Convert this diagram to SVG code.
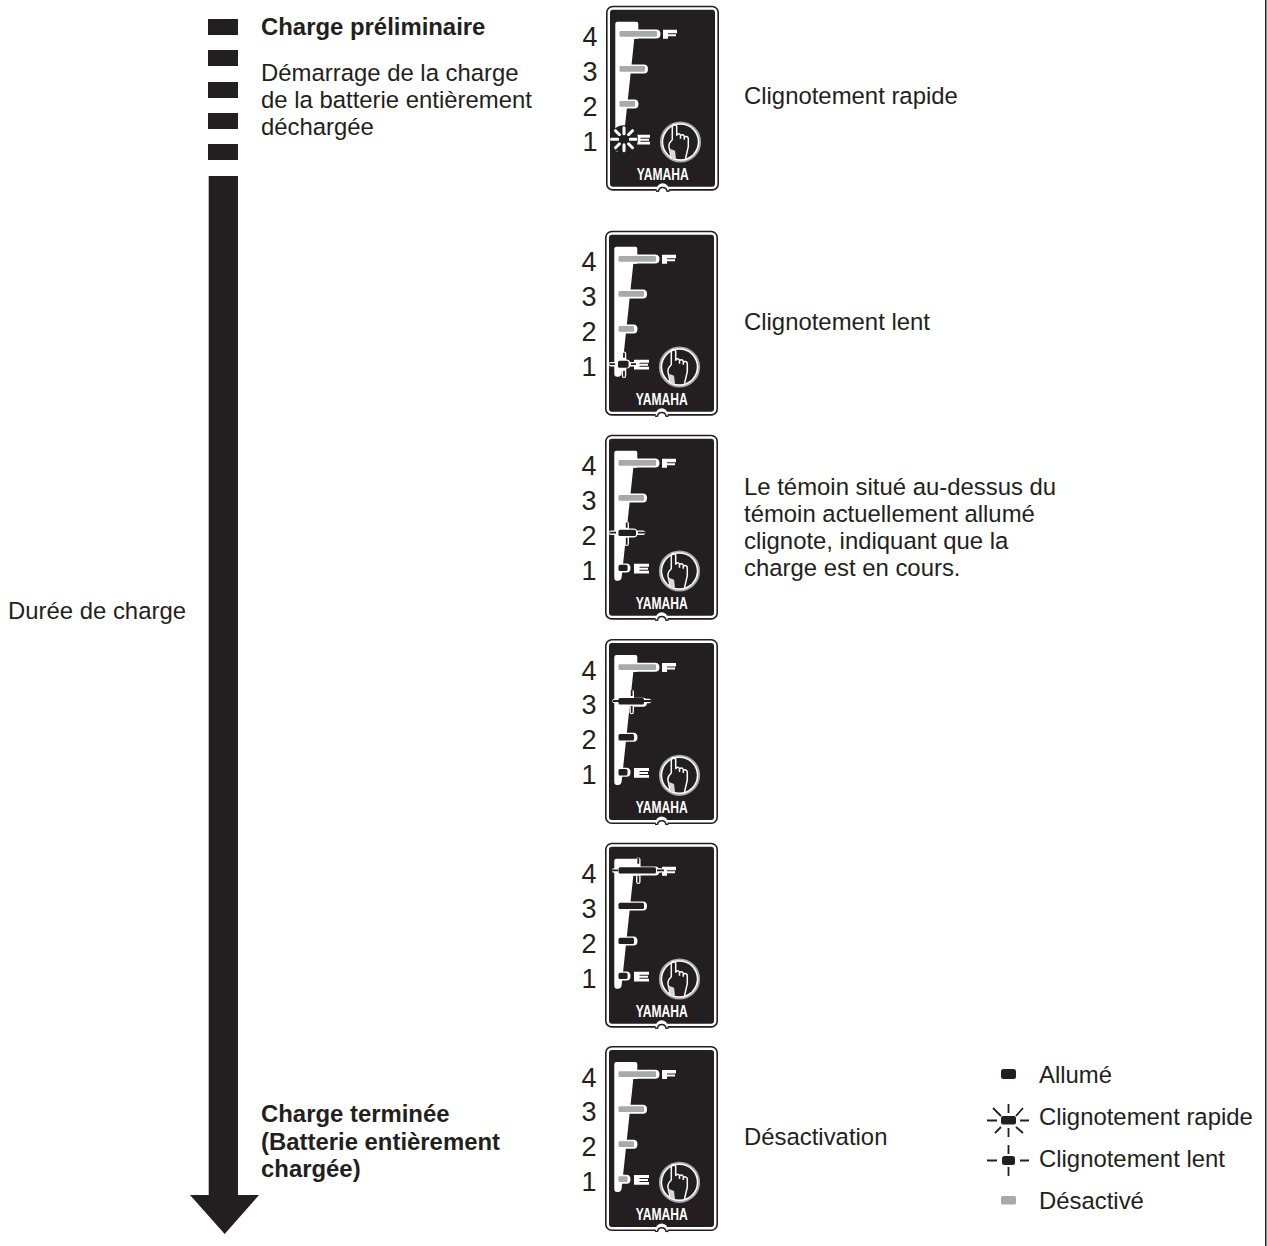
<svg xmlns="http://www.w3.org/2000/svg" xmlns:xlink="http://www.w3.org/1999/xlink" width="1267" height="1246" viewBox="0 0 1267 1246">
<style>
text{font-family:"Liberation Sans",Arial,sans-serif;fill:#231f20;font-size:23.900px}
.b{font-weight:bold}
.d{font-size:27px}
.y{font-size:16.500px;font-weight:bold;fill:#fff;text-anchor:middle}
.k{fill:#231f20}
.w{fill:#fff}
.g{fill:#a7a9ac}
.ray{stroke:#231f20;stroke-width:1.800;fill:none}
.wr{stroke:#fff;stroke-width:4.500;fill:none;stroke-linecap:round}
.wf{stroke:#fff;stroke-width:3;fill:none;stroke-linecap:round}
</style>
<defs>
<g id="panel">
<rect x="0.8" y="0.8" width="111.4" height="183.4" rx="6" fill="#fff" stroke="#231f20" stroke-width="1.6"/>
<rect x="4" y="4" width="105" height="177" rx="3" class="k"/>
<circle cx="56.700" cy="183.500" r="6" class="w"/>
<path d="M50 185.500H52.500A4.300 4.300 0 0 1 61 185.500H63.500" fill="none" stroke="#231f20" stroke-width="1.500"/>
<rect x="50" y="186.200" width="13" height="3" class="w"/>
<path class="w" d="M11.500 16H30.500Q32.300 16 32.300 18V33H28.300L16.700 142Q16.400 146 13 146H12Q9.300 146 9.300 143V18Q9.300 16 11.500 16Z"/>
<path class="w" d="M13 23.700H50Q54.500 23.700 54.500 28.200T50 32.700H13ZM13 58.700H38Q42 58.700 42 63.200T38 67.700H13ZM13 93.700H28.500Q32.500 93.700 32.500 98.200T28.500 102.700H13ZM13 128.700H21.500Q25.500 128.700 25.500 133.200T21.500 137.700H13Z"/>
<path class="w" d="M57 24H71V27.500H62V28.500H70V30.500H62V33H57Z"/>
<path class="w" d="M29 129H44V132H34.500V133H43V135H34.500V136H44V138.700H29Z"/>
<circle cx="74.500" cy="136.300" r="19.700" fill="#fff" stroke="#a7a9ac" stroke-width="1.800"/>
<circle cx="74.500" cy="136.300" r="17.300" class="k"/>
<path fill="none" stroke="#fff" stroke-width="1.500" stroke-linejoin="round" d="M65.500 153L63 141.500Q62.300 137.500 66.300 134V120.500Q68.300 116.500 70.700 120.500V129.500Q73 126.800 74.500 129.500V133M74.500 130Q76.800 127.800 78.300 130.500V134M78.300 131.500Q81 129.800 82.300 132.500V141L79.500 153"/>
<path fill="#d8d8d8" d="M64 143L66 153H70L69 145Z"/>
<text class="y" x="56.700" y="174.300" textLength="52" lengthAdjust="spacingAndGlyphs">YAMAHA</text>
</g>
<g id="digits">
<text class="d" x="-23.500" y="40.500">4</text>
<text class="d" x="-23.500" y="75">3</text>
<text class="d" x="-23.500" y="110">2</text>
<text class="d" x="-23.500" y="145">1</text>
</g>
<rect id="g4" class="g" x="13.500" y="25.300" width="37.500" height="5.800" rx="1.200"/>
<rect id="g3" class="g" x="13.500" y="60.300" width="25.500" height="5.800" rx="1.200"/>
<rect id="g2" class="g" x="13.500" y="95.300" width="15.500" height="5.800" rx="1.200"/>
<rect id="g1" class="g" x="13.500" y="130.300" width="9" height="5.800" rx="1.200"/>
<rect id="k3" class="k" x="13.500" y="60" width="25.500" height="6.400" rx="1.500"/>
<rect id="k2" class="k" x="13.500" y="95" width="15.500" height="6.400" rx="1.500"/>
<rect id="k1" class="k" x="13.500" y="130" width="9" height="6.400" rx="1.500"/>
</defs>

<g id="connectors">
<g id="time-arrow" class="k">
<rect x="208" y="19" width="30" height="16"/>
<rect x="208" y="50" width="30" height="16"/>
<rect x="208" y="82" width="30" height="16"/>
<rect x="208" y="113" width="30" height="16"/>
<rect x="208" y="144" width="30" height="16"/>
<path d="M208.700 176H238V1195H259L224.700 1234L190 1195H208.700Z"/>
</g>
</g>

<g id="labels">
<text x="8" y="619">Durée de charge</text>
<text class="b" x="261" y="35">Charge préliminaire</text>
<text x="261" y="81">Démarrage de la charge</text>
<text x="261" y="108">de la batterie entièrement</text>
<text x="261" y="135">déchargée</text>
<text class="b" x="261" y="1122">Charge terminée</text>
<text class="b" x="261" y="1150">(Batterie entièrement</text>
<text class="b" x="261" y="1177">chargée)</text>
<text x="744" y="104">Clignotement rapide</text>
<text x="744" y="330">Clignotement lent</text>
<text x="744" y="495">Le témoin situé au-dessus du</text>
<text x="744" y="522">témoin actuellement allumé</text>
<text x="744" y="549">clignote, indiquant que la</text>
<text x="744" y="576">charge est en cours.</text>
<text x="744" y="1145">Désactivation</text>
</g>

<g id="panel-1" transform="translate(606 5.700)">
<use xlink:href="#panel"/><use xlink:href="#digits"/>
<use xlink:href="#g4"/><use xlink:href="#g3"/><use xlink:href="#g2"/>
<circle class="k" cx="18" cy="133.500" r="14"/>
<path class="wf" d="M5.500 133.500H12M24 133.500H30M18 122V128M18 139V145M9.500 125L13.500 129M26.500 125L22.500 129M9.500 142L13.500 138M26.500 142L22.500 138"/>
<rect class="k" x="13" y="130" width="10" height="7" rx="1.500"/>
</g>
<g id="panel-2" transform="translate(605 230.700)">
<use xlink:href="#panel"/><use xlink:href="#digits"/>
<use xlink:href="#g4"/><use xlink:href="#g3"/><use xlink:href="#g2"/>
<path class="wr" d="M6 133.500H30M19 123V145"/>
<path class="ray" d="M4.500 133.500H10M26 133.500H31M19 122V127M19 140V146"/>
<rect class="k" x="13" y="130" width="10.500" height="7" rx="1.500"/>
</g>
<g id="panel-3" transform="translate(605 434.700)">
<use xlink:href="#panel"/><use xlink:href="#digits"/>
<use xlink:href="#g4"/><use xlink:href="#g3"/><use xlink:href="#k1"/>
<path class="wr" d="M6 98H38M21.700 89V109"/>
<path class="ray" d="M4.500 98H11M33 98H40M21.700 87.700V93M21.700 103V110"/>
<rect class="k" x="13.500" y="95" width="17.500" height="6.400" rx="1.500"/>
</g>
<g id="panel-4" transform="translate(605 639)">
<use xlink:href="#panel"/><use xlink:href="#digits"/>
<use xlink:href="#g4"/><use xlink:href="#k2"/><use xlink:href="#k1"/>
<path class="wr" d="M9.500 62H44M26.700 53V73"/>
<path class="ray" d="M8 62H15M38 62H46M26.700 51V57M26.700 67V74"/>
<rect class="k" x="13.500" y="59" width="25.500" height="6.400" rx="1.500"/>
</g>
<g id="panel-5" transform="translate(605 842.700)">
<use xlink:href="#panel"/><use xlink:href="#digits"/>
<use xlink:href="#k3"/><use xlink:href="#k2"/><use xlink:href="#k1"/>
<path class="wr" d="M9 27.700H56M33.300 17V39"/>
<path class="ray" d="M6.700 27.700H13M52 27.700H59M33.300 15.300V21M33.300 33V40"/>
<rect class="k" x="13.500" y="24.500" width="37.500" height="6.400" rx="1.500"/>
</g>
<g id="panel-6" transform="translate(605 1046)">
<use xlink:href="#panel"/><use xlink:href="#digits"/>
<use xlink:href="#g4"/><use xlink:href="#g3"/><use xlink:href="#g2"/><use xlink:href="#g1"/>
</g>

<g id="legend">
<rect class="k" x="1001" y="1069" width="15" height="10" rx="2.500"/>
<text x="1039" y="1082.500">Allumé</text>
<rect class="k" x="1001" y="1116" width="15" height="8.500" rx="2"/>
<path class="ray" d="M987 1120.500H997M1020 1120.500H1029M1008.500 1104V1113M1008.500 1128V1137M993 1108L1001 1116M1023 1108L1016 1116M995 1133L1001 1127M1023 1133L1016 1127"/>
<text x="1039" y="1124.500">Clignotement rapide</text>
<rect class="k" x="1002" y="1156" width="13" height="9" rx="2.500"/>
<path class="ray" d="M987 1160.500H997M1020 1160.500H1029M1008.500 1145V1154M1008.500 1167V1176"/>
<text x="1039" y="1167">Clignotement lent</text>
<rect class="g" x="1001" y="1196" width="15" height="8.500" rx="1.500"/>
<text x="1039" y="1209">Désactivé</text>
</g>
<rect id="page-edge" x="1265" y="0" width="1.500" height="1246" class="k"/>
</svg>
